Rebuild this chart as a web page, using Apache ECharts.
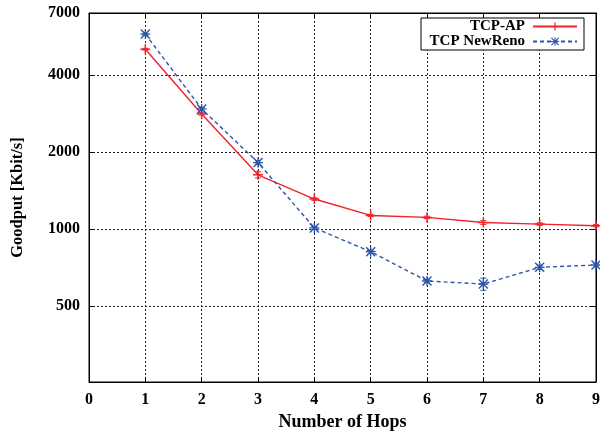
<!DOCTYPE html>
<html>
<head>
<meta charset="utf-8">
<script src="https://cdn.jsdelivr.net/npm/echarts@6/dist/echarts.min.js"></script>
<style>
  html, body { margin: 0; padding: 0; background: #fff; }
  #chart { width: 600px; height: 435px; }
</style>
</head>
<body>
<div id="chart"></div>
<script>
// Goodput versus number of hops, TCP-AP compared with TCP NewReno
const hops = [1, 2, 3, 4, 5, 6, 7, 8, 9];
const tcpAp = [5050, 2820, 1630, 1310, 1130, 1110, 1060, 1045, 1030];
const tcpApErr = [40, 30, 45, 15, 12, 12, 18, 12, 10];
const newReno = [5790, 2950, 1820, 1010, 815, 626, 609, 708, 723];
const newRenoErr = [50, 40, 30, 12, 12, 10, 33, 14, 12];
const yLabelTicks = [500, 1000, 2000, 4000, 7000];
const yGridTicks = [500, 1000, 2000, 4000];

const FONT = '"Liberation Serif", "DejaVu Serif", serif';
const RED = '#f2222b';
const BLUE = '#2d56aa';

// plus and asterisk point shapes
const PLUS = 'path://M-1,-0.15H1V0.15H-1Z M-0.15,-1H0.15V1H-0.15Z';
const STAR = 'path://M-1,-0.13H1V0.13H-1Z M-0.13,-1H0.13V1H-0.13Z ' +
             'M-1,-0.8L-0.8,-1L1,0.8L0.8,1Z M0.8,-1L1,-0.8L-0.8,1L-1,0.8Z';

function pairs(ys) { return hops.map((x, i) => [x, ys[i]]); }
function errRows(ys, es) { return hops.map((x, i) => [x, ys[i] - es[i], ys[i] + es[i]]); }

function errorBars(color) {
  return function (params, api) {
    const x = api.value(0);
    const lo = api.coord([x, api.value(1)]);
    const hi = api.coord([x, api.value(2)]);
    const w = 3;
    const style = { stroke: color, lineWidth: 1 };
    return {
      type: 'group',
      children: [
        { type: 'line', shape: { x1: lo[0], y1: lo[1], x2: hi[0], y2: hi[1] }, style },
        { type: 'line', shape: { x1: lo[0] - w, y1: lo[1], x2: lo[0] + w, y2: lo[1] }, style },
        { type: 'line', shape: { x1: hi[0] - w, y1: hi[1], x2: hi[0] + w, y2: hi[1] }, style }
      ]
    };
  };
}

const gridLine = { show: true, lineStyle: { color: '#222', width: 1, type: [2, 2] } };
const axisLine = { show: true, onZero: false, lineStyle: { color: '#000', width: 1 } };
const tickStyle = { show: true, inside: true, length: 5, lineStyle: { color: '#000' } };
const labelFont = { fontFamily: FONT, fontWeight: 'bold', fontSize: 16, color: '#000' };
const plain = v => String(v);

const xBase = { type: 'value', min: 0, max: 9, interval: 1 };
const yBase = { type: 'log', logBase: 10, min: 252, max: 7000 };

const chart = echarts.init(document.getElementById('chart'), null, { renderer: 'canvas' });
chart.setOption({
  animation: false,
  backgroundColor: '#fff',
  grid: {
    left: 89, right: 4, top: 13, bottom: 53,
    outerBoundsMode: 'none', containLabel: false,
    show: true, borderColor: '#000', borderWidth: 1
  },
  legend: {
    orient: 'vertical',
    right: 16,
    top: 18,
    align: 'right',
    backgroundColor: '#fff',
    borderColor: '#000',
    borderWidth: 1,
    borderRadius: 0,
    padding: [1, 6, 1, 8],
    itemGap: 0,
    itemWidth: 44,
    itemHeight: 10,
    textStyle: { fontFamily: FONT, fontWeight: 'bold', fontSize: 15, color: '#000',
                 lineHeight: 14, width: 96, align: 'right', padding: [0, 3, 0, 0] },
    data: ['TCP-AP', 'TCP NewReno']
  },
  xAxis: [
    Object.assign({}, xBase, {
      position: 'bottom',
      name: 'Number of Hops',
      nameLocation: 'middle',
      nameGap: 31,
      nameTextStyle: { fontFamily: FONT, fontWeight: 'bold', fontSize: 18, color: '#000' },
      axisLine, axisTick: tickStyle, splitLine: gridLine,
      axisLabel: Object.assign({ margin: 10, showMaxLabel: true, showMinLabel: true, formatter: plain }, labelFont)
    }),
    Object.assign({}, xBase, {
      position: 'top',
      axisLine, axisTick: tickStyle, splitLine: { show: false }, axisLabel: { show: false }
    })
  ],
  yAxis: [
    Object.assign({}, yBase, {
      position: 'left',
      name: 'Goodput [Kbit/s]',
      nameLocation: 'middle',
      nameGap: 63,
      nameTextStyle: { fontFamily: FONT, fontWeight: 'bold', fontSize: 16.5, color: '#000' },
      axisLine,
      axisTick: Object.assign({ customValues: yGridTicks }, tickStyle),
      splitLine: gridLine,
      axisLabel: Object.assign({ margin: 9, customValues: yLabelTicks, formatter: plain }, labelFont)
    }),
    Object.assign({}, yBase, {
      position: 'right',
      axisLine,
      axisTick: Object.assign({ customValues: yGridTicks }, tickStyle),
      splitLine: { show: false },
      axisLabel: { show: false, customValues: yLabelTicks }
    })
  ],
  series: [
    {
      name: 'TCP-AP',
      type: 'line',
      data: pairs(tcpAp),
      symbol: PLUS,
      symbolSize: 10,
      lineStyle: { color: RED, width: 1.4 },
      itemStyle: { color: RED },
      z: 3
    },
    {
      name: 'TCP NewReno',
      type: 'line',
      data: pairs(newReno),
      symbol: STAR,
      symbolSize: 10,
      lineStyle: { color: BLUE, width: 1.4, type: [4, 3] },
      itemStyle: { color: BLUE },
      z: 4
    },
    {
      type: 'custom',
      data: errRows(tcpAp, tcpApErr),
      renderItem: errorBars(RED),
      encode: { x: 0, y: [1, 2] },
      silent: true,
      z: 3
    },
    {
      type: 'custom',
      data: errRows(newReno, newRenoErr),
      renderItem: errorBars(BLUE),
      encode: { x: 0, y: [1, 2] },
      silent: true,
      z: 4
    }
  ]
});
</script>
</body>
</html>
